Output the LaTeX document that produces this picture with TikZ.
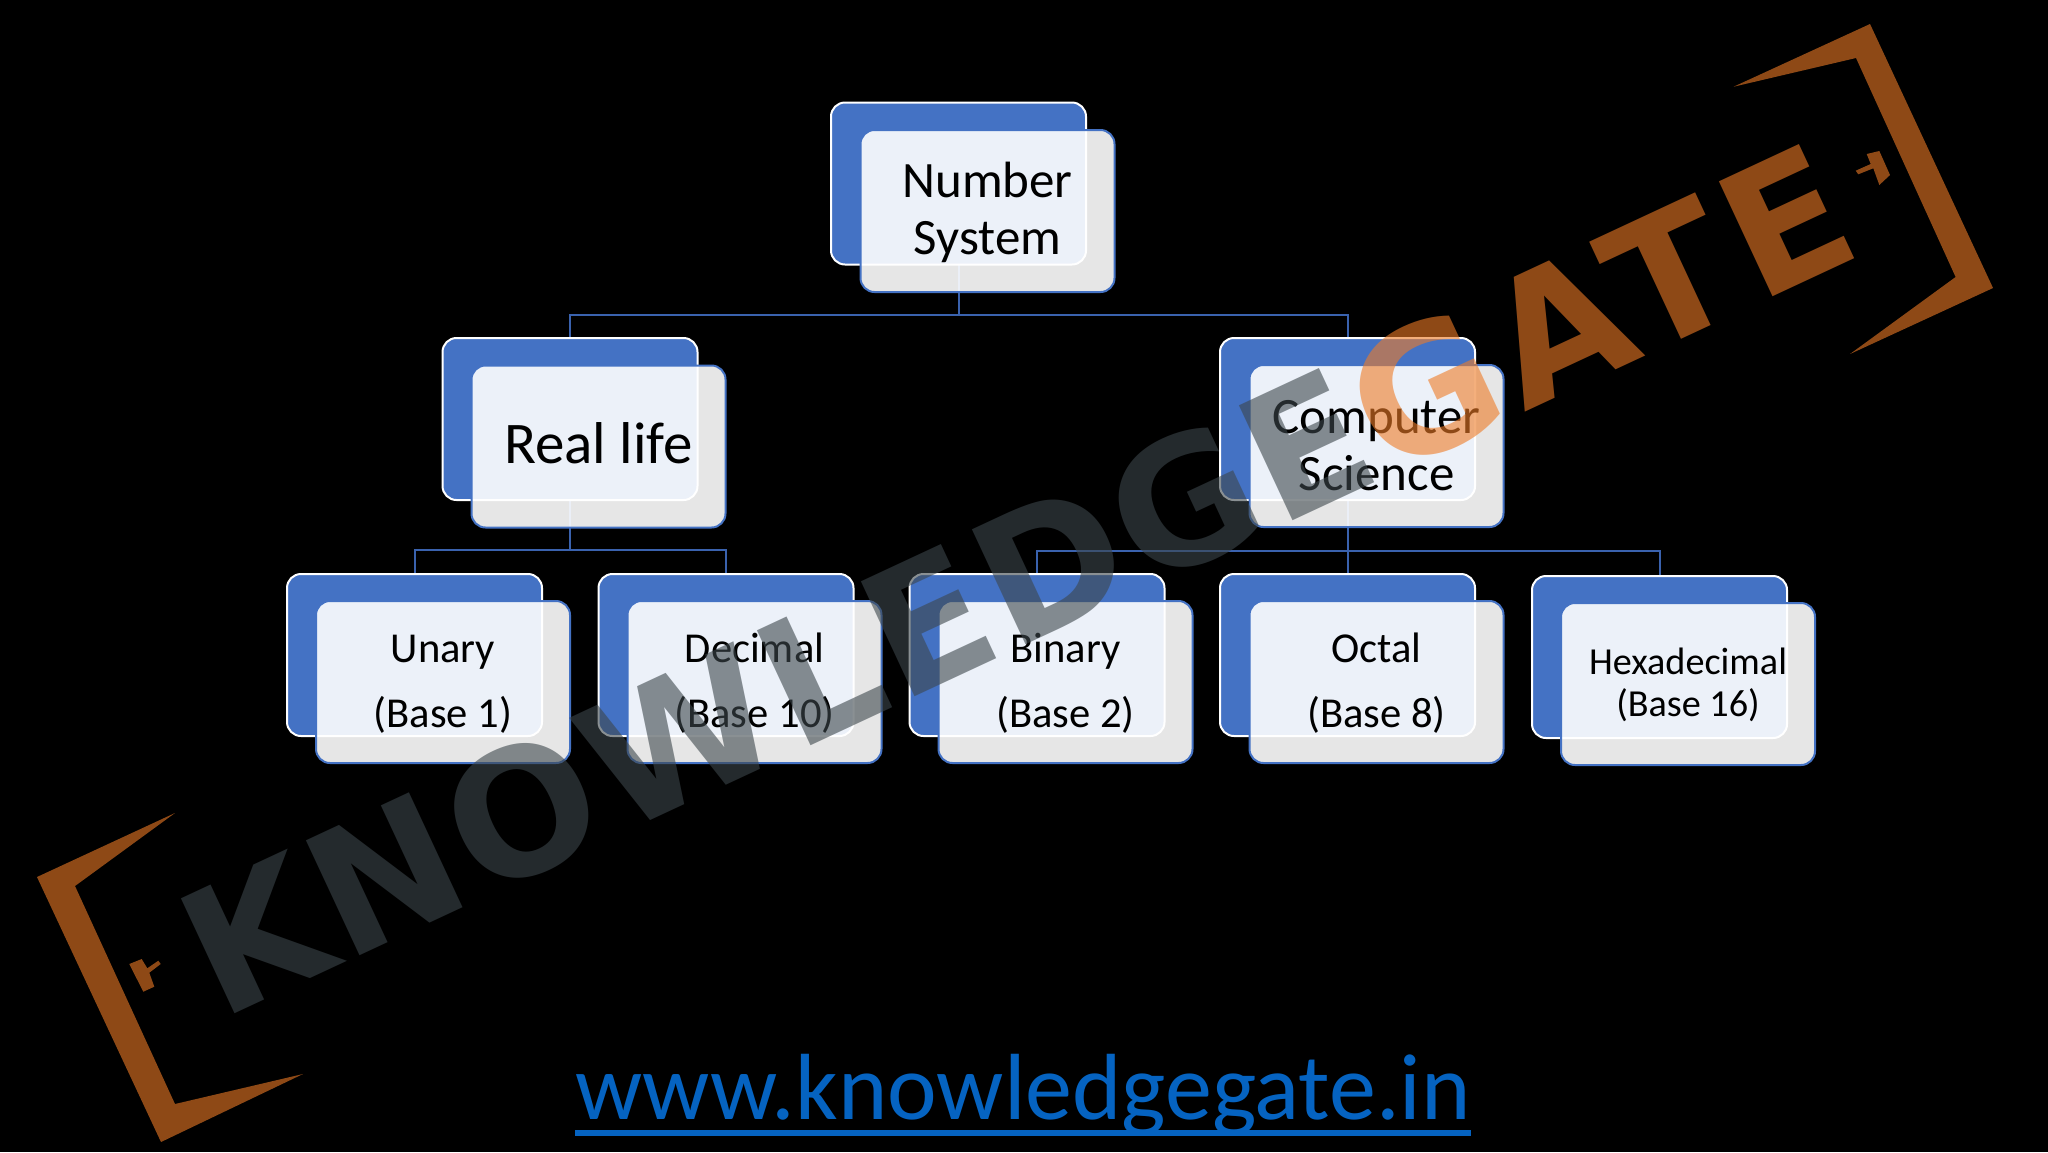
\documentclass[tikz,border=0pt]{standalone}
\usepackage{fontspec}
\setmainfont{Carlito}
\newfontfamily\wmf[LetterSpace=2.2]{DejaVu Sans}
\newfontfamily\wmg[LetterSpace=5.3]{DejaVu Sans}
\definecolor{kgblue}{HTML}{4472C4}
\definecolor{kgline}{HTML}{3A62AE}
\definecolor{kglink}{HTML}{0563C1}
\definecolor{wmdark}{HTML}{3C464B}
\definecolor{wmorange}{HTML}{EE7B26}
\pgfdeclarelayer{canvas}
\pgfdeclarelayer{wires}
\pgfsetlayers{canvas,wires,main}
\tikzset{
  backbox/.style={draw=white,line width=1pt,fill=kgblue,rounded corners=7pt,minimum width=127.5pt,minimum height=81pt,inner sep=0pt,outer sep=0pt},
  frontbox/.style={draw=kgblue,line width=1pt,fill=white,fill opacity=.9,draw opacity=1,rounded corners=7pt,minimum width=127pt,minimum height=81pt,inner sep=0pt,outer sep=0pt},
  lbl/.style={inner sep=0pt,outer sep=0pt,align=center,text=black},
  conn/.style={draw=kgline,line width=1pt},
  wmshape/.style={fill=wmorange,fill opacity=.6,draw=none},
}
\begin{document}
\begin{tikzpicture}[x=.5pt,y=-.5pt]
\begin{pgfonlayer}{canvas}
\fill[black] (0,0) rectangle (2048,1152);
\end{pgfonlayer}
\useasboundingbox (0,0) rectangle (2048,1152);
% back boxes
\node[backbox] (bA) at (958.5,183.5) {};
\node[backbox] (bB) at (570,419) {};
\node[backbox] (bC) at (1347.5,419) {};
\node[backbox] (bD) at (414.5,655) {};
\node[backbox] (bE) at (726,655) {};
\node[backbox] (bF) at (1037,655) {};
\node[backbox] (bG) at (1347.5,655) {};
\node[backbox] (bH) at (1659.5,657) {};
% front boxes
\node[frontbox] (fA) at (987.5,211) {};
\node[frontbox] (fB) at (598.5,446.5) {};
\node[frontbox] (fC) at (1376.5,446) {};
\node[frontbox] (fD) at (443,682) {};
\node[frontbox] (fE) at (754.5,682) {};
\node[frontbox] (fF) at (1065.5,682) {};
\node[frontbox] (fG) at (1376.5,682) {};
\node[frontbox] (fH) at (1688,684) {};
% box texts
\node[lbl,font=\fontsize{25.5}{28.6}\selectfont] (tA) at ([yshift=-.85pt]fA.center) {Number\\System};
\node[lbl,font=\fontsize{29.5}{32}\selectfont] (tB) at ([yshift=1.6pt]fB.center) {Real life};
\node[lbl,font=\fontsize{25.5}{28.4}\selectfont] (tC) at (fC.center) {Computer\\Science};
\node[lbl,font=\fontsize{21.3}{32.3}\selectfont] (tD) at ([yshift=-1pt]fD.center) {Unary\\(Base 1)};
\node[lbl,font=\fontsize{21.3}{32.3}\selectfont] (tE) at ([yshift=-.6pt]fE.center) {Decimal\\(Base 10)};
\node[lbl,font=\fontsize{21.3}{32.3}\selectfont] (tF) at ([yshift=-.6pt]fF.center) {Binary\\(Base 2)};
\node[lbl,font=\fontsize{21.3}{32.3}\selectfont] (tG) at ([yshift=-.6pt]fG.center) {Octal\\(Base 8)};
\node[lbl,font=\fontsize{19.1}{21}\selectfont] (tH) at ([yshift=-.2pt]fH.center) {Hexadecimal\\(Base 16)};
% connectors
\coordinate (busA) at (958.5,315);
\coordinate (busB) at (570,550);
\coordinate (busC) at (1347.5,551);
\begin{pgfonlayer}{wires}
\draw[conn] (bA.south) -- (busA);
\draw[conn] (bB.north) |- (busA) -| (bC.north);
\draw[conn] (bB.south) -- (busB);
\draw[conn] (bD.north) |- (busB) -| (bE.north);
\draw[conn] (bC.south) -- (bG.north);
\draw[conn] (bF.north) |- (busC) -| (bH.north);
\end{pgfonlayer}
% link
\node[anchor=base,inner sep=0pt,text=kglink,font=\fontsize{47}{56}\selectfont] (link) at (1023,1119) {www.knowledgegate.in};
\draw[kglink,line width=3pt] ([yshift=-7pt]link.base west) -- ([yshift=-7pt]link.base east);
% watermark
\node[anchor=base west,inner sep=0pt,rotate=25,text opacity=.6,font=\bfseries\fontsize{87}{100}\selectfont] (mark) at (220,1021) {{\wmf\bfseries\fontsize{87}{100}\selectfont\textcolor{wmdark}{KNOWLEDGE}}{\wmg\bfseries\fontsize{87}{100}\selectfont\textcolor{wmorange}{GATE}}};
\fill[wmshape] (1733.6,86.7) -- (1870,24) -- (1993,288) -- (1850,354) -- (1955.6,277) -- (1856,58) -- cycle;
\fill[wmshape] (175,813) -- (37,877) -- (161,1142) -- (303,1074) -- (175,1104) -- (75,886) -- cycle;
\fill[wmshape] (1866.7,154) -- (1879.3,151) -- (1890,175) -- (1879.3,185) -- (1873.3,168.3) -- (1858.3,174.3) -- (1855.7,170.7) -- (1870.7,164) -- cycle;
\fill[wmshape] (129.3,964) -- (141.7,959) -- (147.3,968.3) -- (158.3,960.7) -- (160.7,964) -- (149.3,972.7) -- (154.3,986.7) -- (143.3,991.7) -- cycle;
\end{tikzpicture}
\end{document}
